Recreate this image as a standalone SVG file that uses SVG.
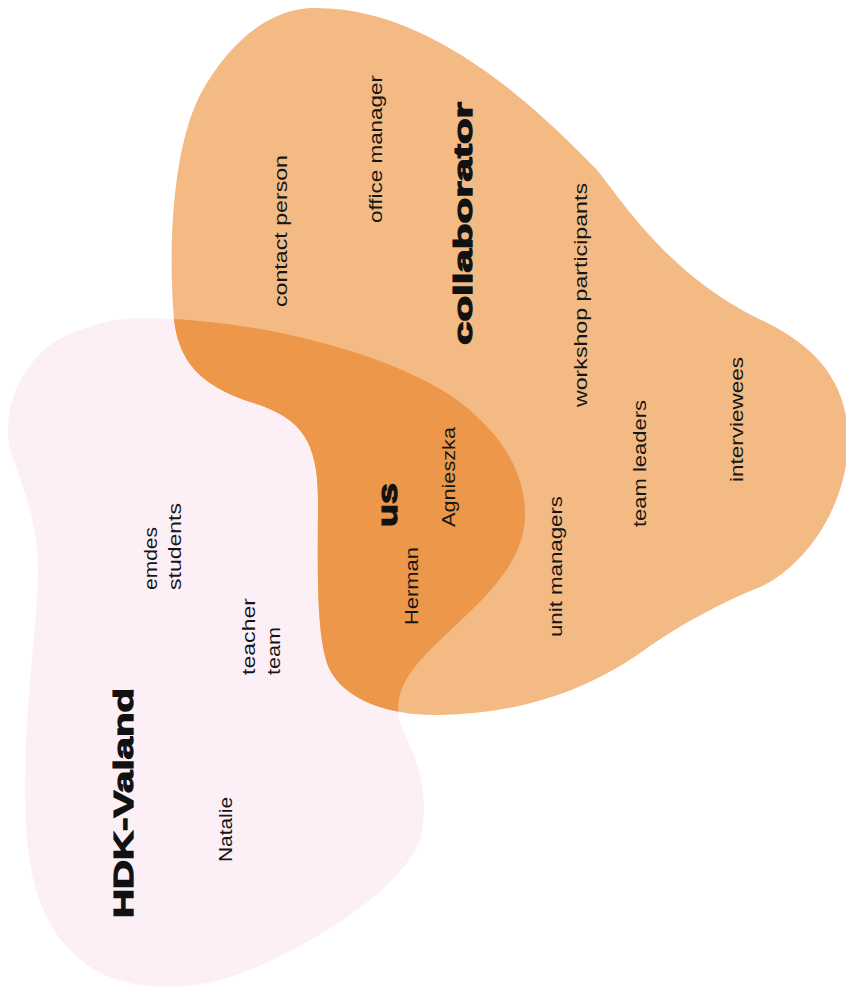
<svg xmlns="http://www.w3.org/2000/svg" width="846" height="1004" viewBox="0 0 846 1004">
<style>
.t{font-family:"Liberation Sans",Arial,sans-serif;font-size:18px;fill:#161616;}
.b{font-family:"Liberation Sans",Arial,sans-serif;font-weight:900;fill:#111;stroke:#111;stroke-width:1.2;}
</style>
<defs>
<path id="pinkShape" d="M 140 318 C 250 318, 380 350, 450 395 C 500 430, 525 470, 525 515 C 525 570, 470 610, 430 650 C 400 680, 390 705, 405 735 C 420 765, 430 800, 420 840 C 400 890, 320 940, 250 970 C 190 995, 110 995, 70 950 C 35 915, 25 860, 25 790 C 25 700, 38 620, 38 570 C 38 520, 20 480, 10 450 C 0 400, 30 345, 80 330 C 100 322, 120 318, 140 318 Z"/>
<path id="orangeShape" d="M 310 8 C 420 5, 520 90, 597 170 C 625 205, 670 275, 757 318 C 800 338, 848 370, 848 440 C 848 510, 800 570, 760 587 C 720 603, 680 625, 647 648 C 590 690, 520 714, 440 715 C 390 716, 345 700, 330 670 C 315 640, 318 560, 318 500 C 318 440, 300 420, 260 405 C 210 390, 180 370, 174 320 C 168 250, 172 150, 200 95 C 230 40, 270 10, 310 8 Z"/>
<clipPath id="pinkClip"><use href="#pinkShape"/></clipPath>
</defs>
<g id="hdk-valand-blob"><use href="#pinkShape" fill="#fcf0f6"/></g>
<g id="collaborator-blob"><use href="#orangeShape" fill="#f4ba84"/></g>
<g id="us-overlap" clip-path="url(#pinkClip)"><use href="#orangeShape" fill="#ec974a"/></g>
<g id="connectors"></g>
<g id="label-collaborator"><text class="b" font-size="25" textLength="243" lengthAdjust="spacingAndGlyphs" transform="translate(472,345) rotate(-90)">collaborator</text></g>
<g id="label-us"><text class="b" font-size="28" textLength="44" lengthAdjust="spacingAndGlyphs" transform="translate(397,527) rotate(-90)">us</text></g>
<g id="label-hdk"><text class="b" font-size="28" textLength="230" lengthAdjust="spacingAndGlyphs" transform="translate(133,918) rotate(-90)">HDK-Valand</text></g>
<g id="node-contact-person"><text class="t" textLength="152" lengthAdjust="spacingAndGlyphs" transform="translate(287,307) rotate(-90)">contact person</text></g>
<g id="node-office-manager"><text class="t" textLength="148" lengthAdjust="spacingAndGlyphs" transform="translate(382,223) rotate(-90)">office manager</text></g>
<g id="node-workshop"><text class="t" textLength="224" lengthAdjust="spacingAndGlyphs" transform="translate(587,407) rotate(-90)">workshop participants</text></g>
<g id="node-interviewees"><text class="t" textLength="125" lengthAdjust="spacingAndGlyphs" transform="translate(743,482) rotate(-90)">interviewees</text></g>
<g id="node-team-leaders"><text class="t" textLength="127" lengthAdjust="spacingAndGlyphs" transform="translate(646,527) rotate(-90)">team leaders</text></g>
<g id="node-unit-managers"><text class="t" textLength="141" lengthAdjust="spacingAndGlyphs" transform="translate(562,637) rotate(-90)">unit managers</text></g>
<g id="node-agnieszka"><text class="t" textLength="100" lengthAdjust="spacingAndGlyphs" transform="translate(455,527) rotate(-90)">Agnieszka</text></g>
<g id="node-herman"><text class="t" textLength="78" lengthAdjust="spacingAndGlyphs" transform="translate(418,625) rotate(-90)">Herman</text></g>
<g id="node-emdes-students">
<text class="t" textLength="63" lengthAdjust="spacingAndGlyphs" transform="translate(157,590) rotate(-90)">emdes</text>
<text class="t" textLength="87" lengthAdjust="spacingAndGlyphs" transform="translate(181,590) rotate(-90)">students</text>
</g>
<g id="node-teacher-team">
<text class="t" textLength="77" lengthAdjust="spacingAndGlyphs" transform="translate(255,675) rotate(-90)">teacher</text>
<text class="t" textLength="48" lengthAdjust="spacingAndGlyphs" transform="translate(280,675) rotate(-90)">team</text>
</g>
<g id="node-natalie"><text class="t" textLength="65" lengthAdjust="spacingAndGlyphs" transform="translate(232,862) rotate(-90)">Natalie</text></g>
</svg>
